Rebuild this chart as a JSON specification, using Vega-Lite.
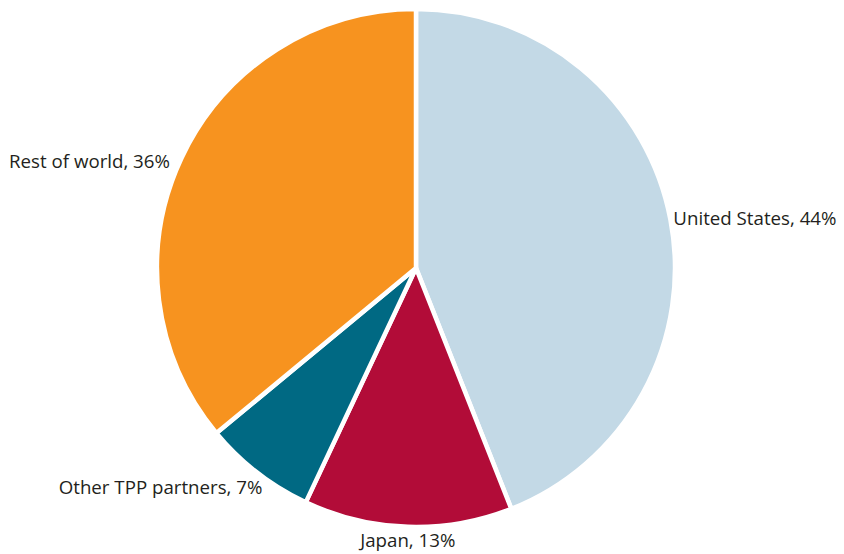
{
  "$schema": "https://vega.github.io/schema/vega-lite/v6.json",
  "autosize": {"type": "none"},
  "width": 832,
  "height": 536,
  "padding": {"left": 0, "top": 0, "right": 12, "bottom": 18},
  "background": "white",
  "view": {"stroke": null},
  "data": {
    "values": [
      {"region": "United States", "share": 44, "order": 1},
      {"region": "Japan", "share": 13, "order": 2},
      {"region": "Other TPP partners", "share": 7, "order": 3},
      {"region": "Rest of world", "share": 36, "order": 4}
    ]
  },
  "transform": [
    {"stack": "share", "sort": [{"field": "order", "order": "ascending"}], "groupby": [], "as": ["s0", "s1"]},
    {"calculate": "(datum.s0 + datum.s1) / 2", "as": "mid"},
    {"calculate": "datum.region + ', ' + datum.share + '%'", "as": "label"}
  ],
  "layer": [
    {
      "mark": {"type": "arc", "outerRadius": 259, "stroke": "white", "strokeWidth": 4.5},
      "encoding": {
        "theta": {"field": "s0", "type": "quantitative", "scale": {"domain": [0, 100]}},
        "theta2": {"field": "s1"},
        "color": {
          "field": "region",
          "type": "nominal",
          "scale": {
            "domain": ["United States", "Japan", "Other TPP partners", "Rest of world"],
            "range": ["#c3d9e6", "#b20c38", "#006983", "#f7931f"]
          },
          "legend": null
        }
      }
    },
    {
      "transform": [{"filter": "datum.region === 'United States'"}],
      "mark": {"type": "text", "radius": 262, "align": "left", "baseline": "middle", "font": "Open Sans", "fontSize": 18.7, "color": "#231f20"},
      "encoding": {"theta": {"field": "mid", "type": "quantitative", "scale": {"domain": [0, 100]}}, "text": {"field": "label"}}
    },
    {
      "transform": [{"filter": "datum.region === 'Rest of world'"}],
      "mark": {"type": "text", "radius": 262, "align": "right", "baseline": "middle", "font": "Open Sans", "fontSize": 18.7, "color": "#231f20", "dx": -9, "dy": 6},
      "encoding": {"theta": {"field": "mid", "type": "quantitative", "scale": {"domain": [0, 100]}}, "text": {"field": "label"}}
    },
    {
      "transform": [{"filter": "datum.region === 'Other TPP partners'"}],
      "mark": {"type": "text", "radius": 262, "align": "right", "baseline": "middle", "font": "Open Sans", "fontSize": 18.7, "color": "#231f20", "dx": 7, "dy": 13},
      "encoding": {"theta": {"field": "mid", "type": "quantitative", "scale": {"domain": [0, 100]}}, "text": {"field": "label"}}
    },
    {
      "transform": [{"filter": "datum.region === 'Japan'"}],
      "mark": {"type": "text", "radius": 262, "align": "center", "baseline": "middle", "font": "Open Sans", "fontSize": 18.7, "color": "#231f20", "dy": 11},
      "encoding": {"theta": {"field": "mid", "type": "quantitative", "scale": {"domain": [0, 100]}}, "text": {"field": "label"}}
    }
  ]
}
